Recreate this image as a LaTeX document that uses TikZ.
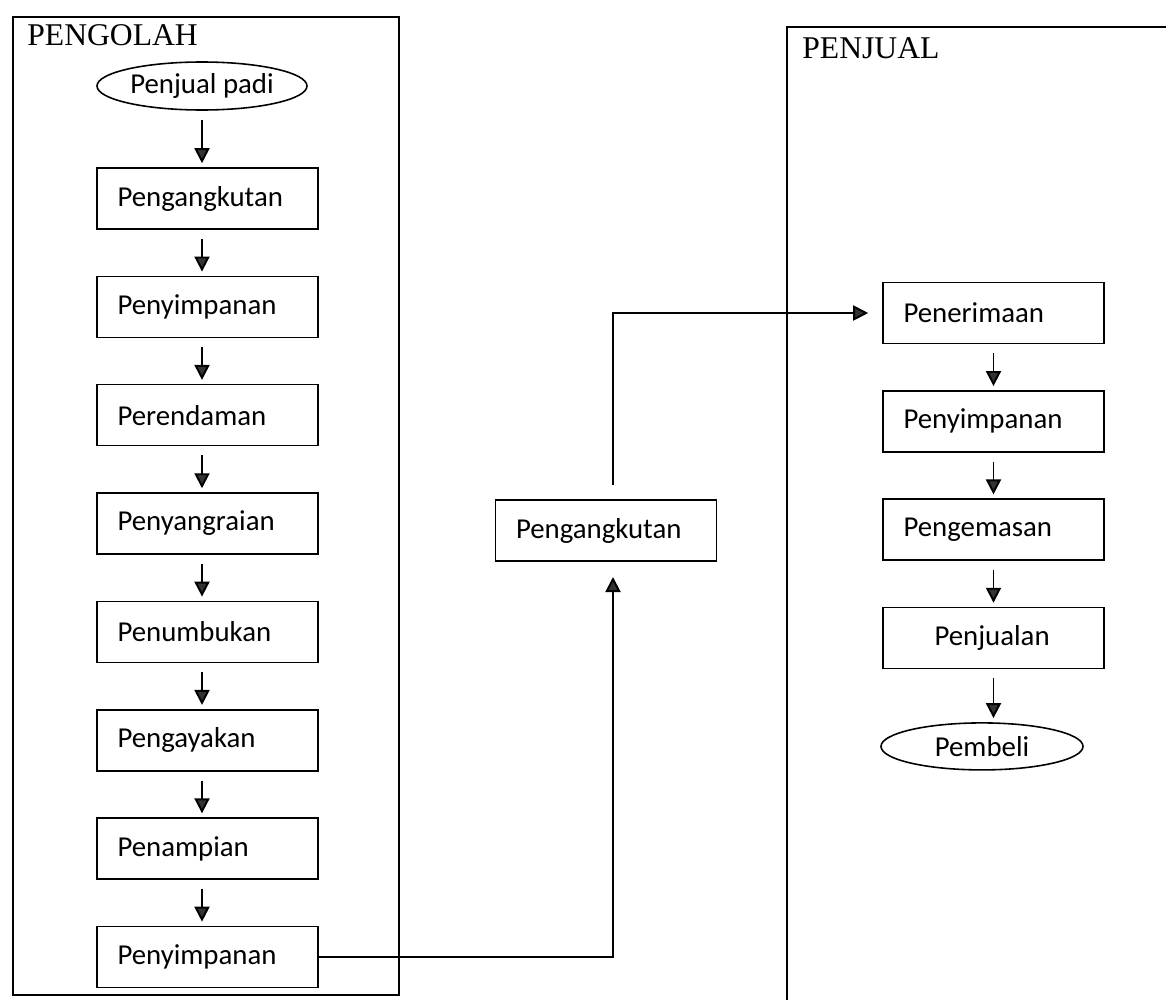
\documentclass[tikz,border=0pt]{standalone}
\usepackage{fontspec}
\setmainfont{Carlito}
\newfontfamily\titlefont{Liberation Serif}
\usetikzlibrary{arrows.meta,shapes.geometric,positioning}

\tikzset{
  box/.style={draw,line width=0.9pt,text width=3.6cm,inner xsep=0.41cm,minimum height=1.22cm,align=left,font=\fontsize{16.4}{19}\selectfont},
  oval/.style={draw,ellipse,line width=0.9pt,inner sep=0pt,font=\fontsize{16.4}{19}\selectfont},
  flow/.style={line width=1.1pt,shorten <=0.18cm,shorten >=0.08cm,-{Triangle[length=0.3cm,width=0.3cm,fill=black!80]}},
  link/.style={line width=0.9pt},
  title/.style={anchor=base west,inner sep=0pt,font=\titlefont\fontsize{18}{20}\selectfont}
}

\begin{document}
\begin{tikzpicture}[node distance=2.167cm]
      \useasboundingbox (0,0) rectangle (23.32,-20);
      \draw[link] (0.26,-0.34) rectangle (7.98,-19.9);
      \draw[link] (23.32,-0.54) -- (15.74,-0.54) -- (15.74,-20);

      \node [title] (t1) at (0.54,-0.9) {PENGOLAH};
      \node [title] (t2) at (16.04,-1.16) {PENJUAL};

      \node [oval,minimum width=4.2cm,minimum height=0.96cm] (1) at (4.04,-1.72) {Penjual padi};
      \node [box] (2) at (4.15,-3.97) {Pengangkutan};
      \node [box,below of=2] (3) {Penyimpanan};
      \node [box,below of=3] (4) {Perendaman};
      \node [box,below of=4] (5) {Penyangraian};
      \node [box,below of=5] (6) {Penumbukan};
      \node [box,below of=6] (7) {Pengayakan};
      \node [box,below of=7] (8) {Penampian};
      \node [box,below of=8] (9) {Penyimpanan};

      \node [box] (10) at (12.12,-10.61) {Pengangkutan};

      \node [box] (11) at (19.87,-6.26) {Penerimaan};
      \node [box,below of=11] (12) {Penyimpanan};
      \node [box,below of=12] (13) {Pengemasan};
      \node [box,below of=13] (14) {\hspace*{0.62cm}Penjualan};
      \node [oval,below of=14,xshift=-0.23cm,minimum width=4.04cm,minimum height=0.94cm] (15) {Pembeli};

      \coordinate (c1) at (12.26,-11.54);
      \coordinate (c2) at (12.26,-9.70);

      % arrows of the left column all sit under the oval
      \draw[flow] (1) -- (1 |- 2.north);
      \draw[flow] (2.south -| 1) -- (3.north -| 1);
      \draw[flow] (3.south -| 1) -- (4.north -| 1);
      \draw[flow] (4.south -| 1) -- (5.north -| 1);
      \draw[flow] (5.south -| 1) -- (6.north -| 1);
      \draw[flow] (6.south -| 1) -- (7.north -| 1);
      \draw[flow] (7.south -| 1) -- (8.north -| 1);
      \draw[flow] (8.south -| 1) -- (9.north -| 1);

      \draw[flow,shorten <=0pt,shorten >=0pt] (9) -| (c1);
      \draw[flow,shorten <=0pt,shorten >=0.28cm] (c2) |- (11);

      \draw[flow] (11) -- (12);
      \draw[flow] (12) -- (13);
      \draw[flow] (13) -- (14);
      \draw[flow] (14) -- (14 |- 15.north);
    \end{tikzpicture}
\end{document}
